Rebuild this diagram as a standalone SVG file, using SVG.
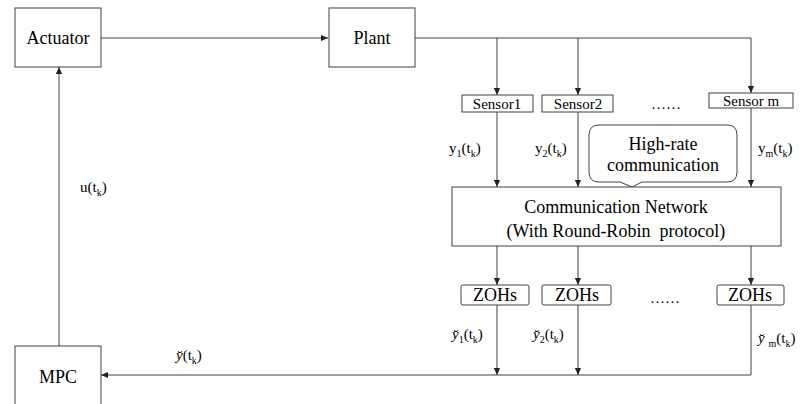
<svg xmlns="http://www.w3.org/2000/svg" width="800" height="404" viewBox="0 0 800 404">
<style>
  .box{fill:#ffffff;stroke:#404040;stroke-width:1}
  .ln{fill:none;stroke:#404040;stroke-width:1}
</style>
<defs>
  <marker id="ah" viewBox="0 0 8 8" refX="8" refY="4" markerWidth="7" markerHeight="7" markerUnits="userSpaceOnUse" orient="auto">
    <path d="M0,0.5 L8,4 L0,7.5 Z" fill="#222"/>
  </marker>
</defs>
<rect width="800" height="404" fill="#fff"/>

<g id="connectors">
  <path class="ln" d="M101,38 H328" marker-end="url(#ah)"/>
  <path class="ln" d="M415,38 H751 V93" marker-end="url(#ah)"/>
  <path class="ln" d="M497,38 V95" marker-end="url(#ah)"/>
  <path class="ln" d="M578,38 V95" marker-end="url(#ah)"/>
  <path class="ln" d="M497,112 V187" marker-end="url(#ah)"/>
  <path class="ln" d="M578,112 V187" marker-end="url(#ah)"/>
  <path class="ln" d="M751,108 V187" marker-end="url(#ah)"/>
  <path class="ln" d="M497,246 V285" marker-end="url(#ah)"/>
  <path class="ln" d="M578,246 V285" marker-end="url(#ah)"/>
  <path class="ln" d="M751,246 V285" marker-end="url(#ah)"/>
  <path class="ln" d="M497,305 V375" marker-end="url(#ah)"/>
  <path class="ln" d="M578,305 V375" marker-end="url(#ah)"/>
  <path class="ln" d="M751,305 V375 H101" marker-end="url(#ah)"/>
  <path class="ln" d="M59,346 V67" marker-end="url(#ah)"/>
  <text font-family="Liberation Serif" font-size="15" x="80" y="192">u(t<tspan font-size="10" dy="4">k</tspan><tspan dy="-4">)</tspan></text>
  <text font-family="Liberation Serif" font-size="15" x="449" y="153">y<tspan font-size="10" dy="4">1</tspan><tspan dy="-4">(t</tspan><tspan font-size="10" dy="4">k</tspan><tspan dy="-4">)</tspan></text>
  <text font-family="Liberation Serif" font-size="15" x="535" y="153">y<tspan font-size="10" dy="4">2</tspan><tspan dy="-4">(t</tspan><tspan font-size="10" dy="4">k</tspan><tspan dy="-4">)</tspan></text>
  <text font-family="Liberation Serif" font-size="15" x="758" y="153">y<tspan font-size="10" dy="4">m</tspan><tspan dy="-4">(t</tspan><tspan font-size="10" dy="4">k</tspan><tspan dy="-4">)</tspan></text>
  <text font-family="Liberation Serif" font-size="15" x="452" y="339"><tspan font-style="italic">y&#x306;</tspan><tspan font-size="10" dy="4">1</tspan><tspan dy="-4">(t</tspan><tspan font-size="10" dy="4">k</tspan><tspan dy="-4">)</tspan></text>
  <text font-family="Liberation Serif" font-size="15" x="533" y="339"><tspan font-style="italic">y&#x306;</tspan><tspan font-size="10" dy="4">2</tspan><tspan dy="-4">(t</tspan><tspan font-size="10" dy="4">k</tspan><tspan dy="-4">)</tspan></text>
  <text font-family="Liberation Serif" font-size="15" x="758" y="343"><tspan font-style="italic">y&#x306;</tspan> <tspan font-size="10" dy="4">m</tspan><tspan dy="-4">(t</tspan><tspan font-size="10" dy="4">k</tspan><tspan dy="-4">)</tspan></text>
  <text font-family="Liberation Serif" font-size="15" x="176" y="360"><tspan font-style="italic">y&#x306;</tspan>(t<tspan font-size="10" dy="4">k</tspan><tspan dy="-4">)</tspan></text>
</g>

<g id="actuator">
  <rect class="box" x="15" y="8" width="86" height="59"/>
  <text font-family="Liberation Serif" font-size="18" x="58" y="44" text-anchor="middle">Actuator</text>
</g>
<g id="plant">
  <rect class="box" x="329" y="8" width="86" height="59"/>
  <text font-family="Liberation Serif" font-size="18" x="372" y="44" text-anchor="middle">Plant</text>
</g>
<g id="sensor1">
  <rect class="box" x="462" y="95" width="71" height="17"/>
  <text font-family="Liberation Serif" font-size="15" x="497" y="109" text-anchor="middle">Sensor1</text>
</g>
<g id="sensor2">
  <rect class="box" x="542" y="95" width="71" height="17"/>
  <text font-family="Liberation Serif" font-size="15" x="578" y="109" text-anchor="middle">Sensor2</text>
</g>
<g id="sensor-dots">
  <text font-family="Liberation Serif" font-size="15" x="666" y="109" text-anchor="middle">……</text>
</g>
<g id="sensorm">
  <rect class="box" x="709" y="93" width="84" height="15"/>
  <text font-family="Liberation Serif" font-size="15" x="751" y="106" text-anchor="middle">Sensor m</text>
</g>
<g id="callout">
  <path class="box" d="M599,125 H727 Q737,125 737,135 V172 Q737,182 727,182 H642 L632,187 L620,182 H599 Q589,182 589,172 V135 Q589,125 599,125 Z"/>
  <text font-family="Liberation Serif" font-size="18" x="663" y="150" text-anchor="middle">High-rate</text>
  <text font-family="Liberation Serif" font-size="18" x="663" y="171" text-anchor="middle">communication</text>
</g>
<g id="network">
  <rect class="box" x="452" y="187" width="329" height="59"/>
  <text font-family="Liberation Serif" font-size="18" x="616" y="213" text-anchor="middle">Communication Network</text>
  <text font-family="Liberation Serif" font-size="18" x="616" y="237" text-anchor="middle">(With Round-Robin&#160; protocol)</text>
</g>
<g id="zoh1">
  <rect class="box" x="461" y="285" width="68" height="20" rx="2"/>
  <text font-family="Liberation Serif" font-size="18" x="495" y="301" text-anchor="middle">ZOHs</text>
</g>
<g id="zoh2">
  <rect class="box" x="542" y="285" width="69" height="20" rx="2"/>
  <text font-family="Liberation Serif" font-size="18" x="577" y="301" text-anchor="middle">ZOHs</text>
</g>
<g id="zoh-dots">
  <text font-family="Liberation Serif" font-size="15" x="665" y="303" text-anchor="middle">……</text>
</g>
<g id="zohm">
  <rect class="box" x="717" y="285" width="67" height="20" rx="2"/>
  <text font-family="Liberation Serif" font-size="18" x="750" y="301" text-anchor="middle">ZOHs</text>
</g>
<g id="mpc">
  <rect class="box" x="15" y="346" width="86" height="70"/>
  <text font-family="Liberation Serif" font-size="18" x="58" y="383" text-anchor="middle">MPC</text>
</g>
</svg>
